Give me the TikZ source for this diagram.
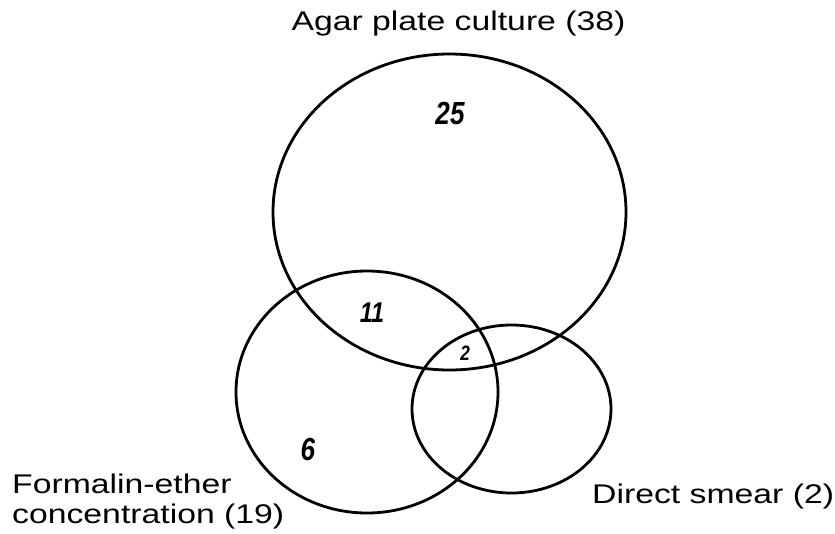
\documentclass[tikz,border=0pt]{standalone}
\usepackage{fontspec}
\usepackage{graphicx}
\setmainfont{Liberation Sans}
% labels in the figure are set wider than the font
\newcommand{\widetxt}[1]{\scalebox{1.25}[1]{#1}}
% counts are set narrower and taller
\newcommand{\tallnum}[1]{\scalebox{0.9}[1.1]{#1}}

\begin{document}
\begin{tikzpicture}[x=1pt, y=-1pt,
    set/.style={line width=2.8pt},
    lbl/.style={inner sep=0pt, font=\fontsize{27}{30}\selectfont},
    num/.style={inner sep=0pt, font=\bfseries\itshape\fontsize{#1}{#1}\selectfont}]
    % picture frame, in pixels of the figure
    \useasboundingbox (0,0) rectangle (835,533);

    % Ellipses of the three methods
    \draw[set] (449.5,212) ellipse [x radius=176.5pt, y radius=158pt]; % agar plate
    \draw[set] (367,392) ellipse [x radius=131pt, y radius=121pt];     % formalin-ether
    \draw[set] (511.5,409) ellipse [x radius=99.5pt, y radius=84pt];   % direct smear

    % Names of the sets
    \node[lbl, anchor=base] (agar) at (458.5,30) {\widetxt{Agar plate culture (38)}};
    \node[lbl, anchor=base west] (form1) at (12,493) {\widetxt{Formalin-ether}};
    \node[lbl, anchor=base west] (form2) at (12,523) {\widetxt{concentration (19)}};
    \node[lbl, anchor=base west] (smear) at (592,503) {\widetxt{Direct smear (2)}};

    % Counts
    \node[num=29] (n25) at (450,114) {\tallnum{25}};
    \node[num=26] (n11) at (372,313) {\tallnum{11}};
    \node[num=19] (n2) at (465,353) {\tallnum{2}};
    \node[num=29] (n6) at (308,450) {\tallnum{6}};

\end{tikzpicture}
\end{document}
